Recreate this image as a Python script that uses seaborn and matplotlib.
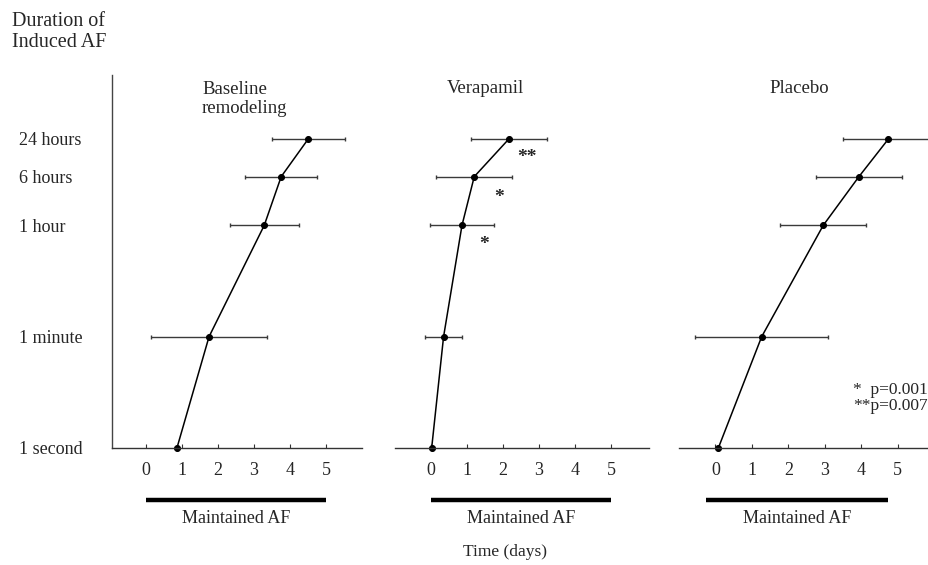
import numpy as np
import pandas as pd
import matplotlib
matplotlib.use("Agg")
import matplotlib.pyplot as plt
from matplotlib.ticker import NullLocator
import seaborn as sns

# durations of induced AF (y) and time of measurement in days (x)
duration_labels = ["1 second", "1 minute", "1 hour", "6 hours", "24 hours"]
duration_sec = [1, 60, 3600, 21600, 86400]

baseline_days = [0.87, 1.76, 3.29, 3.76, 4.51]
baseline_err = [0, 1.61, 0.96, 1.00, 1.01]

verapamil_days = [0.03, 0.36, 0.87, 1.21, 2.17]
verapamil_err = [0, 0.52, 0.89, 1.05, 1.06]

placebo_days = [0.08, 1.27, 2.96, 3.94, 4.75]
placebo_err = [0, 1.83, 1.18, 1.18, 1.26]

maintained_baseline = [0, 5]
maintained_verapamil = [0, 5]
maintained_placebo = [-0.25, 4.75]

# significance marks on the verapamil curve (1 hour, 6 hours, 24 hours)
star_marks = ["*", "*", "**"]
star_rows = [2, 3, 4]
p_notes = ["*  p=0.001", "**p=0.007"]

day_ticks = [0, 1, 2, 3, 4, 5]

sns.set_style("white")
plt.rcParams["font.family"] = ["Liberation Serif", "DejaVu Serif"]

W, H = 929, 565
fig = plt.figure(figsize=(W / 100, H / 100), dpi=100)


def px_axes(left, top, width, height):
    return fig.add_axes([left / W, 1 - (top + height) / H, width / W, height / H])


panels = [
    ("Baseline\nremodeling", baseline_days, baseline_err, maintained_baseline,
     (-0.93, 6.0), (112, 75, 250, 373), (0.36, 0.936, "left")),
    ("Verapamil", verapamil_days, verapamil_err, maintained_verapamil,
     (-1.0, 6.05), (394.5, 75, 254.4, 373), (0.356, 0.965, "center")),
    ("Placebo", placebo_days, placebo_err, maintained_placebo,
     (-1.0, 5.85), (679, 75, 249.5, 373), (0.481, 0.965, "center")),
]

axes = []
for i, (title, days, err, maint, xlim, box, tpos) in enumerate(panels):
    ax = px_axes(*box)
    axes.append(ax)
    df = pd.DataFrame({"days": days, "seconds": duration_sec})

    ax.errorbar(days, duration_sec, xerr=err, fmt="none", ecolor="#3a3a3a",
                elinewidth=1.0, capsize=1.5, capthick=1.0, zorder=1, clip_on=False)
    sns.lineplot(data=df, x="days", y="seconds", sort=False, color="black",
                 lw=1.1, marker="o", markersize=4.3, markeredgecolor="black",
                 ax=ax, zorder=2, clip_on=False)

    ax.set_yscale("log")
    ax.set_ylim(1, 9.08e5)
    ax.set_xlim(*xlim)
    ax.set_xlabel("")
    ax.set_ylabel("")
    ax.yaxis.set_minor_locator(NullLocator())
    ax.xaxis.set_minor_locator(NullLocator())

    ax.set_xticks(day_ticks)
    ax.set_xticklabels([str(d) for d in day_ticks])
    ax.tick_params(axis="x", direction="in", length=3, width=0.8,
                   color="#333333", labelsize=13, pad=10, bottom=True)

    for side in ["top", "right"]:
        ax.spines[side].set_visible(False)
    ax.spines["bottom"].set_color("#333333")
    ax.spines["bottom"].set_linewidth(1.0)
    if i == 0:
        ax.spines["left"].set_color("#444444")
        ax.spines["left"].set_linewidth(1.0)
        ax.set_yticks(duration_sec)
        ax.set_yticklabels(duration_labels)
        ax.tick_params(axis="y", length=0, labelsize=13, pad=67)
        for lab in ax.get_yticklabels():
            lab.set_horizontalalignment("left")
    else:
        ax.spines["left"].set_visible(False)
        ax.set_yticks([])

    tx, ty, ha = tpos
    ax.text(tx, ty, title, transform=ax.transAxes, ha=ha, va="center",
            fontsize=13.5, linespacing=1.15)

    # maintained AF period under the axis
    trans = ax.get_xaxis_transform()
    ax.plot(maint, [-0.139, -0.139], transform=trans, color="black", lw=3.2,
            solid_capstyle="butt", clip_on=False)
    ax.text(np.mean(maint), -0.188, "Maintained AF", transform=trans,
            ha="center", va="center", fontsize=13)

# significance stars next to verapamil points
ax = axes[1]
star_offsets = [(22, -19), (25, -21), (18, -19)]
for mark, row, (dx, dy) in zip(star_marks, star_rows, star_offsets):
    ax.annotate(mark, (verapamil_days[row], duration_sec[row]), xytext=(dx, dy),
                textcoords="offset pixels", ha="center", va="center",
                fontsize=14, fontweight="bold")

fig.text(928 / W, 1 - 390 / H, p_notes[0], ha="right", va="center", fontsize=12.5)
fig.text(928 / W, 1 - 406 / H, p_notes[1], ha="right", va="center", fontsize=12.5)

fig.text(12 / W, 1 - 12 / H, "Duration of\nInduced AF", ha="left", va="top",
         fontsize=14.5, linespacing=1.15)
fig.text(505 / W, 1 - 552 / H, "Time (days)", ha="center", va="center", fontsize=12.5)

fig.savefig("out.png", dpi=100)
